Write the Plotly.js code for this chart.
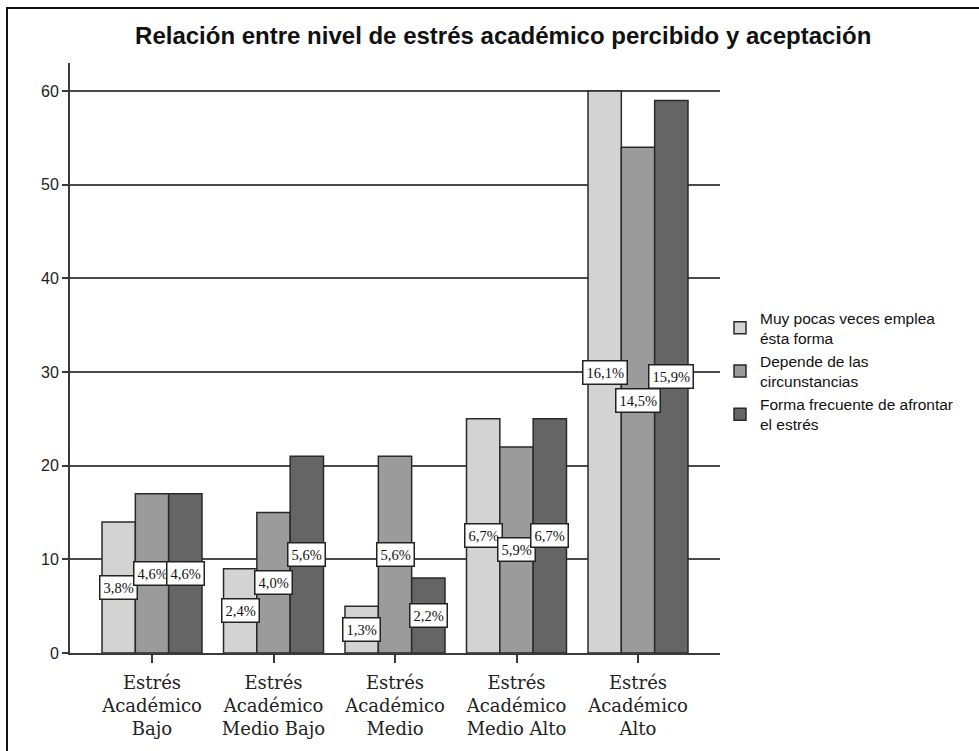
<!DOCTYPE html>
<html>
<head>
<meta charset="utf-8">
<script src="https://cdn.plot.ly/plotly-3.0.1.min.js"></script>
<style>
  html, body { margin: 0; padding: 0; background: #fff; overflow: hidden; }
  #wrap { position: relative; width: 979px; height: 751px; }
  #chart { position: absolute; left: 0; top: 0; width: 979px; height: 751px; }
  #frame { position: absolute; left: 6px; top: 7px; width: 1200px; height: 1000px;
           border-left: 2px solid #111; border-top: 2px solid #111; pointer-events: none; }
</style>
</head>
<body>
<div id="wrap">
  <div id="chart"></div>
  <div id="frame"></div>
</div>
<script>
// ---- data ----
const categories = [
  "Estrés<br>Académico<br>Bajo",
  "Estrés<br>Académico<br>Medio Bajo",
  "Estrés<br>Académico<br>Medio",
  "Estrés<br>Académico<br>Medio Alto",
  "Estrés<br>Académico<br>Alto"
];
const seriesNames = [
  "Muy pocas veces emplea<br>ésta forma",
  "Depende de las<br>circunstancias",
  "Forma frecuente de afrontar<br>el estrés"
];
const muyPocas   = [14, 9, 5, 25, 60];
const depende    = [17, 15, 21, 22, 54];
const frecuente  = [17, 21, 8, 25, 59];
const pctMuyPocas  = [3.8, 2.4, 1.3, 6.7, 16.1];
const pctDepende   = [4.6, 4.0, 5.6, 5.9, 14.5];
const pctFrecuente = [4.6, 5.6, 2.2, 6.7, 15.9];
const yTicks = [0, 10, 20, 30, 40, 50, 60];

// ---- styling ----
const colors = ["#d3d3d3", "#9b9b9b", "#656565"];
const bargap = 0.177;
const values = [muyPocas, depende, frecuente];
const pcts = [pctMuyPocas, pctDepende, pctFrecuente];

const traces = values.map((v, i) => ({
  type: "bar",
  name: seriesNames[i],
  x: categories,
  y: v,
  marker: { color: colors[i], line: { color: "#2a2a2a", width: 1.5 } },
  hoverinfo: "skip"
}));

const barW = (1 - bargap) / 3;
const annotations = [];
pcts.forEach((p, i) => {
  p.forEach((val, j) => {
    annotations.push({
      x: j + (i - 1) * barW,
      y: values[i][j] / 2,
      xref: "x", yref: "y",
      text: val.toFixed(1).replace(".", ",") + "%",
      showarrow: false,
      font: { family: "Liberation Serif, Times New Roman, serif", size: 14.5, color: "#111" },
      bgcolor: "#ffffff",
      bordercolor: "#222",
      borderwidth: 1.5,
      borderpad: 3,
      xanchor: "center",
      yanchor: "middle"
    });
  });
});

const layout = {
  width: 979,
  height: 751,
  margin: { l: 70, r: 259, t: 63, b: 98 },
  paper_bgcolor: "rgba(0,0,0,0)",
  plot_bgcolor: "rgba(0,0,0,0)",
  barmode: "group",
  bargap: bargap,
  bargroupgap: 0,
  title: {
    text: "Relación entre nivel de estrés académico percibido y aceptación",
    font: { family: "Liberation Sans, Arial, sans-serif", size: 24, color: "#111", weight: "bold" },
    x: 0.514, xref: "container", xanchor: "center",
    y: 0.952, yref: "container", yanchor: "middle"
  },
  xaxis: {
    type: "category",
    range: [-0.675, 4.675],
    showgrid: false,
    showline: true,
    linecolor: "#3a3a3a",
    linewidth: 2,
    ticks: "outside",
    ticklen: 8,
    tickwidth: 2,
    tickcolor: "#3a3a3a",
    ticklabelstandoff: 4,
    tickfont: { family: "DejaVu Serif, serif", size: 18, color: "#222" },
    zeroline: false,
    fixedrange: true
  },
  yaxis: {
    range: [0, 63],
    tickvals: yTicks,
    showgrid: true,
    gridcolor: "#4a4a4a",
    gridwidth: 2,
    showline: true,
    linecolor: "#3a3a3a",
    linewidth: 2,
    ticks: "outside",
    ticklen: 6,
    tickwidth: 2,
    tickcolor: "#3a3a3a",
    tickfont: { family: "Liberation Sans, Arial, sans-serif", size: 16, color: "#222" },
    zeroline: false,
    fixedrange: true
  },
  legend: {
    x: 1.0, xanchor: "left",
    y: 0.478, yanchor: "middle",
    font: { family: "Liberation Sans, Arial, sans-serif", size: 15.5, color: "#111" },
    bgcolor: "rgba(0,0,0,0)",
    tracegroupgap: 0,
    itemclick: false,
    itemdoubleclick: false
  },
  annotations: annotations,
  showlegend: true
};

Plotly.newPlot("chart", traces, layout, { displayModeBar: false, staticPlot: true });
</script>
</body>
</html>
